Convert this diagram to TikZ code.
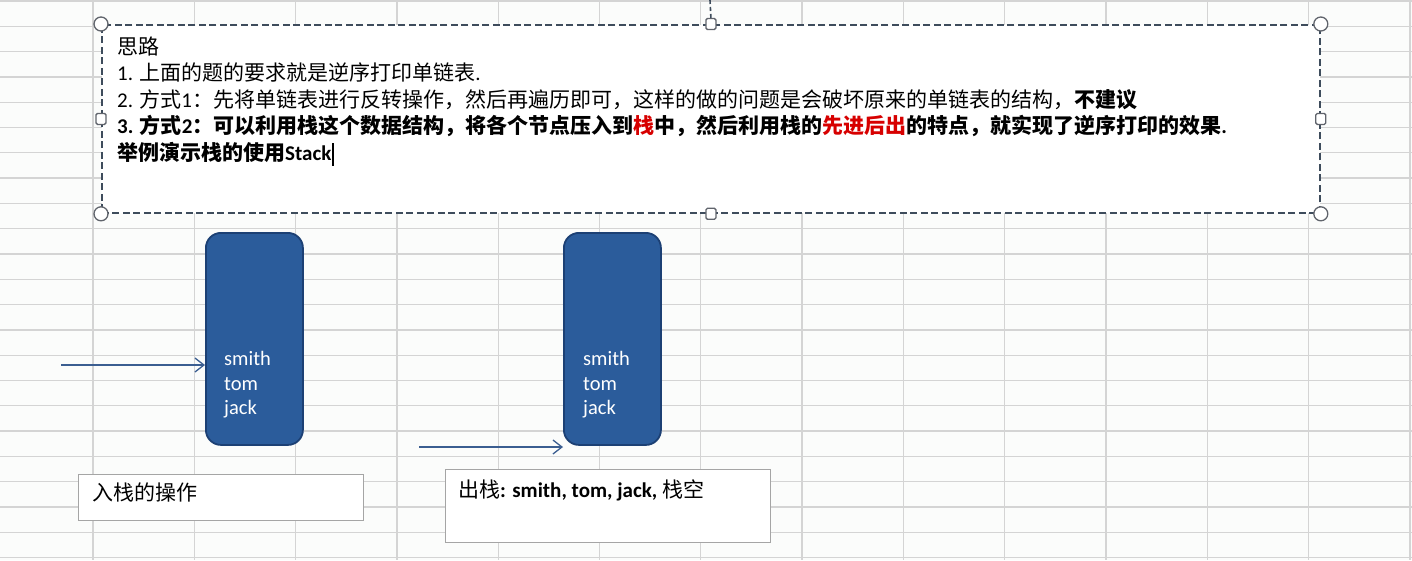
\documentclass[tikz,border=0pt]{standalone}
\usepackage{fontspec}
\setmainfont{Noto Sans CJK SC}
\newfontfamily\lat{Carlito}
\usetikzlibrary{arrows.meta}
\definecolor{gridc}{RGB}{212,212,212}
\definecolor{boxdash}{RGB}{62,76,92}
\definecolor{handlec}{RGB}{96,100,108}
\definecolor{stackfill}{RGB}{43,92,155}
\definecolor{stackline}{RGB}{28,64,116}
\definecolor{arrowc}{RGB}{59,94,145}
\definecolor{lblline}{RGB}{165,165,165}
\definecolor{myred}{RGB}{215,0,0}
\definecolor{bg}{RGB}{251,252,251}
\newcommand\rd[1]{\textcolor{myred}{#1}}
\begin{document}
\begin{tikzpicture}[x=1pt,y=-1pt,
  gridline/.style={draw=gridc, line width=1.3pt},
  tbox/.style={draw=boxdash, fill=white, line width=1.8pt, dash pattern=on 7pt off 3.5pt, inner sep=0pt, anchor=north west},
  hcirc/.style={circle, draw=handlec, fill=white, line width=1.3pt, minimum size=14pt, inner sep=0pt},
  hsq/.style={rectangle, rounded corners=1.5pt, draw=handlec, fill=white, line width=1.3pt, minimum width=10pt, minimum height=11pt, inner sep=0pt},
  txt/.style={anchor=base west, inner sep=0pt, font=\fontsize{21pt}{27pt}\selectfont},
  stackbox/.style={draw=stackline, fill=stackfill, line width=1.8pt, rounded corners=15pt, minimum width=97pt, minimum height=212pt, inner sep=0pt, anchor=north west},
  stxt/.style={anchor=base west, inner sep=0pt, text=white, font=\lat\fontsize{20.5pt}{24pt}\selectfont},
  arr/.style={draw=arrowc, line width=1.4pt, -{Straight Barb[length=9pt, width=14pt, line width=1.3pt]}},
  lblbox/.style={draw=lblline, fill=white, line width=1.4pt, inner sep=0pt, anchor=north west},
  ltxt/.style={anchor=base west, inner sep=0pt, font=\fontsize{21pt}{25pt}\selectfont}
]
\fill[bg] (0,0) rectangle (1412,560);
\useasboundingbox (0,0) rectangle (1412,560);
% spreadsheet grid
\foreach \k in {0,...,13} \draw[gridline] ({93+101.3*\k},0) -- ({93+101.3*\k},560);
\foreach \k in {0,...,22} \draw[gridline] (0,{1+25.3*\k}) -- (1412,{1+25.3*\k});

% text box
\node[tbox, minimum width=1218pt, minimum height=188pt] (box) at (101,24) {};
\coordinate (stemtop) at (710,0);
\node[hsq] (hn) at (box.north) {};
\draw[draw=boxdash, line width=1.6pt, dash pattern=on 4pt off 3pt] (stemtop) -- (hn.north);
\node[hsq] (hs) at (box.south) {};
\node[hsq] (hw) at (box.west) {};
\node[hsq] (he) at (box.east) {};
\node[hcirc] (hnw) at (box.north west) {};
\node[hcirc] (hne) at (box.north east) {};
\node[hcirc] (hsw) at (box.south west) {};
\node[hcirc] (hse) at (box.south east) {};

\node[txt] (l1) at (117,54) {思路};
\node[txt] (l2) at (117,80.5) {{\lat 1. }上面的题的要求就是逆序打印单链表{\lat .}};
\node[txt] (l3) at (117,107) {{\lat 2. }方式{\lat 1}：先将单链表进行反转操作，然后再遍历即可，这样的做的问题是会破坏原来的单链表的结构，\textbf{不建议}};
\node[txt, font=\fontsize{21pt}{27pt}\selectfont\bfseries] (l4) at (117,133.5) {{\lat 3. }方式{\lat 2}：可以利用栈这个数据结构，将各个节点压入到\rd{栈}中，然后利用栈的\rd{先进后出}的特点，就实现了逆序打印的效果{\lat .}};
\node[txt, font=\fontsize{21pt}{27pt}\selectfont\bfseries] (l5) at (117,160) {举例演示栈的使用{\lat Stack}};
\coordinate (cur1) at ([xshift=1.5pt,yshift=17pt]l5.base east);
\coordinate (cur2) at ([xshift=1.5pt,yshift=-6pt]l5.base east);
\draw[black, line width=1.3pt] (cur1) -- (cur2);

% stacks
\node[stackbox] (s1) at (205,232) {};
\node[stxt] (s1a) at (224,365) {smith};
\node[stxt] (s1b) at (224,390) {tom};
\node[stxt] (s1c) at (224,414) {jack};
\node[stackbox] (s2) at (563,232) {};
\node[stxt] (s2a) at (583,365) {smith};
\node[stxt] (s2b) at (583,390) {tom};
\node[stxt] (s2c) at (583,414) {jack};

% arrows
\coordinate (a1) at (61,365);
\draw[arr] (a1) -- (a1 -| s1.west);
\coordinate (a2) at (419,447);
\draw[arr] (a2) -- (a2 -| s2.west);

% label boxes
\node[lblbox, minimum width=285pt, minimum height=46pt] (inbox) at (78,474) {};
\node[ltxt] (intxt) at (92,500) {入栈的操作};
\node[lblbox, minimum width=325pt, minimum height=73pt] (outbox) at (445,469) {};
\node[ltxt] (outtxt) at (458,497) {出栈{\lat\bfseries : smith, tom, jack, }栈空};
\end{tikzpicture}
\end{document}
